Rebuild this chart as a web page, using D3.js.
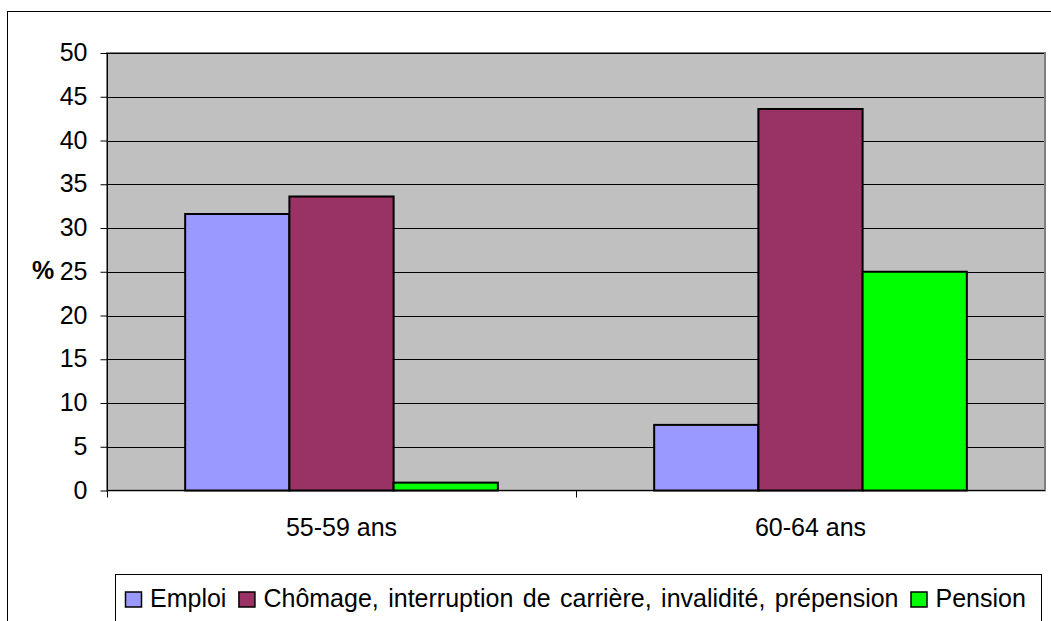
<!DOCTYPE html>
<html lang="fr">
<head>
    <meta charset="UTF-8">
    <title>Emploi, chômage et pension par âge</title>
    <script src="https://d3js.org/d3.v7.min.js"></script>
    <style>
        body { margin: 0; background: #fff; }
        text { font-family: "Liberation Sans", Arial, sans-serif; }
    </style>
</head>
<body>
    <svg width="1051" height="621"></svg>

    <script>
        // Chart data
        const categories = ["55-59 ans", "60-64 ans"];
        const seriesNames = ["Emploi", "Chômage, interruption de carrière, invalidité, prépension", "Pension"];
        const seriesColors = ["#9999FF", "#993366", "#00FF00"];
        const emploi = [31.6, 7.5];
        const chomage = [33.6, 43.6];
        const pension = [0.9, 25.0];
        const yTicks = [0, 5, 10, 15, 20, 25, 30, 35, 40, 45, 50];

        const plot = { left: 107, top: 53, right: 1045, bottom: 490.5 };
        const fontSize = 25;

        const svg = d3.select("svg");

        // Outer chart border
        svg.append("rect")
            .attr("x", 7.5).attr("y", 11.5)
            .attr("width", 1060).attr("height", 700)
            .attr("fill", "#fff")
            .attr("stroke", "#000")
            .attr("stroke-width", 1);

        const x = d3.scaleBand()
            .domain(categories)
            .range([plot.left, plot.right])
            .paddingInner(1 / 3)
            .paddingOuter(1 / 6);

        const xSub = d3.scaleBand()
            .domain(d3.range(seriesNames.length))
            .range([0, x.bandwidth()]);

        const y = d3.scaleLinear()
            .domain([0, 50])
            .range([plot.bottom, plot.top]);

        // Plot area background
        svg.append("rect")
            .attr("x", plot.left).attr("y", plot.top)
            .attr("width", plot.right - plot.left)
            .attr("height", plot.bottom - plot.top)
            .attr("fill", "#C0C0C0")
            .attr("stroke", "#808080")
            .attr("stroke-width", 2);

        // Gridlines
        svg.append("g")
            .selectAll("line")
            .data(yTicks.filter(d => d > 0))
            .join("line")
            .attr("x1", plot.left).attr("x2", plot.right - 1)
            .attr("y1", d => Math.round(y(d)) + 0.5)
            .attr("y2", d => Math.round(y(d)) + 0.5)
            .attr("stroke", "#000")
            .attr("stroke-width", 1);

        // Bars
        const series = [emploi, chomage, pension];
        const rows = [];
        series.forEach((vals, si) => {
            vals.forEach((v, ci) => rows.push({ si, cat: categories[ci], v }));
        });

        svg.append("g")
            .selectAll("rect")
            .data(rows)
            .join("rect")
            .attr("x", d => x(d.cat) + xSub(d.si))
            .attr("y", d => y(d.v))
            .attr("width", xSub.bandwidth())
            .attr("height", d => y(0) - y(d.v))
            .attr("fill", d => seriesColors[d.si])
            .attr("stroke", "#000")
            .attr("stroke-width", 2);

        // Y axis
        const yAxis = d3.axisLeft(y)
            .tickValues(yTicks)
            .tickSize(7)
            .tickPadding(13)
            .tickFormat(d3.format("d"));

        const gy = svg.append("g")
            .attr("transform", `translate(${plot.left + 0.5},0)`)
            .call(yAxis)
            .attr("font-size", fontSize)
            .attr("font-family", null);
        gy.select(".domain").attr("d", `M0,${plot.top}V${plot.bottom + 7}`).attr("stroke", "#000");
        gy.selectAll(".tick line").attr("stroke", "#000");
        gy.selectAll(".tick text").attr("fill", "#000").attr("dy", "0.3em");

        // X axis
        const gx = svg.append("g")
            .attr("transform", `translate(0,${plot.bottom})`);
        gx.append("line")
            .attr("x1", plot.left).attr("x2", plot.right)
            .attr("y1", 0).attr("y2", 0)
            .attr("stroke", "#000");
        const sep = (x(categories[0]) + x.bandwidth() + x(categories[1])) / 2;
        gx.append("line")
            .attr("x1", Math.round(sep) + 0.5).attr("x2", Math.round(sep) + 0.5)
            .attr("y1", 0).attr("y2", 7)
            .attr("stroke", "#000");
        gx.selectAll("text.cat")
            .data(categories)
            .join("text")
            .attr("class", "cat")
            .attr("x", d => x(d) + x.bandwidth() / 2)
            .attr("y", 45.5)
            .attr("text-anchor", "middle")
            .attr("font-size", fontSize)
            .text(d => d);

        // Y axis title
        svg.append("text")
            .attr("x", 32).attr("y", y(25) + 7.5)
            .attr("font-size", fontSize)
            .attr("font-weight", "bold")
            .text("%");

        // Legend
        const legend = svg.append("g");
        legend.append("rect")
            .attr("x", 115.5).attr("y", 574.5)
            .attr("width", 926).attr("height", 80)
            .attr("fill", "#fff")
            .attr("stroke", "#000");

        let lx = 125;
        seriesNames.forEach((name, i) => {
            legend.append("rect")
                .attr("x", lx + 0.5).attr("y", 592)
                .attr("width", 16).attr("height", 15)
                .attr("fill", seriesColors[i])
                .attr("stroke", "#000")
                .attr("stroke-width", 1.5);
            const t = legend.append("text")
                .attr("x", lx + 25).attr("y", 606.5)
                .attr("font-size", fontSize)
                .attr("word-spacing", i === 1 ? 2.5 : 0)
                .text(name);
            lx += 25 + t.node().getBBox().width + 12;
        });
    </script>
</body>
</html>
